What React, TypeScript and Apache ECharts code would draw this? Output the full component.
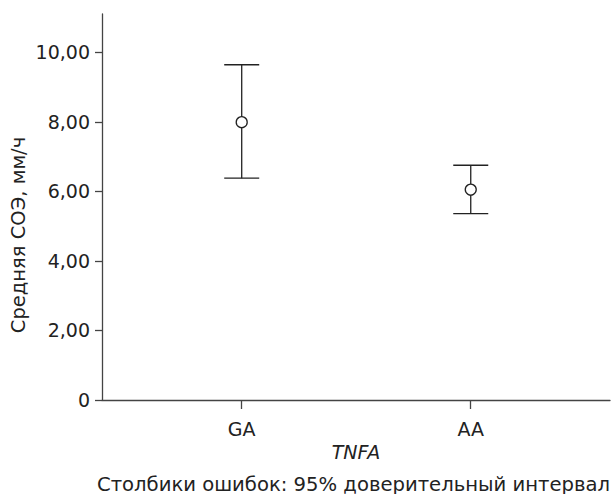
import React, { useEffect, useRef } from 'react';
import * as echarts from 'echarts';

const categories = ['GA', 'AA'];
const categoryPos = [1, 2];
const means = [7.99, 6.05];
const lowerCI = [6.38, 5.36];
const upperCI = [9.64, 6.75];
const yTicks = [0, 2, 4, 6, 8, 10];
const yName = 'Средняя СОЭ, мм/ч';
const xName = 'TNFA';
const footer = 'Столбики ошибок: 95% доверительный интервал';

export default function App() {
  const ref = useRef<HTMLDivElement>(null);
  useEffect(() => {
    const chart = echarts.init(ref.current!, null, { renderer: 'svg' });
    const font = 'DejaVu Sans';
    const ink = '#222';
    const axisColor = '#444';
    chart.setOption({
      animation: false,
      grid: { left: 102, right: 2, top: 14, bottom: 94 },
      xAxis: {
        type: 'value',
        min: 0.39,
        max: 2.608,
        splitLine: { show: false },
        axisLine: { show: true, lineStyle: { color: axisColor, width: 1.3 } },
        axisTick: { show: true, customValues: categoryPos, length: 9, lineStyle: { color: axisColor, width: 1.3 } },
        axisLabel: {
          customValues: categoryPos,
          formatter: (v: number) => categories[Math.round(v) - 1] ?? '',
          margin: 19,
          fontSize: 19,
          color: ink,
          fontFamily: font,
        },
        name: xName,
        nameLocation: 'middle',
        nameGap: 41,
        nameTextStyle: { fontStyle: 'italic', fontSize: 19, color: ink, fontFamily: font },
      },
      yAxis: {
        type: 'value',
        min: 0,
        max: 11.1,
        splitLine: { show: false },
        axisLine: { show: true, lineStyle: { color: axisColor, width: 1.3 } },
        axisTick: { show: true, customValues: yTicks, length: 7, lineStyle: { color: axisColor, width: 1.3 } },
        axisLabel: {
          customValues: yTicks,
          formatter: (v: number) => (v === 0 ? '0' : v.toFixed(2).replace('.', ',')),
          margin: 12,
          fontSize: 19,
          color: ink,
          fontFamily: font,
        },
      },
      graphic: [
        {
          type: 'text',
          x: 18,
          y: 235,
          rotation: Math.PI / 2,
          style: { text: yName, fontSize: 19.5, fontFamily: font, fill: ink, align: 'center', verticalAlign: 'middle' },
        },
        {
          type: 'text',
          x: 610,
          y: 484,
          style: { text: footer, fontSize: 19.6, fontFamily: font, fill: ink, align: 'right', verticalAlign: 'middle' },
        },
      ],
      series: [
        {
          type: 'custom',
          data: categoryPos.map((x, i) => [x, lowerCI[i], upperCI[i]]),
          renderItem: (params: any, api: any) => {
            const x = api.value(0);
            const lo = api.coord([x, api.value(1)]);
            const hi = api.coord([x, api.value(2)]);
            const hw = 17.5;
            const style = { stroke: ink, lineWidth: 1.3 };
            return {
              type: 'group',
              children: [
                { type: 'line', shape: { x1: lo[0], y1: lo[1], x2: hi[0], y2: hi[1] }, style },
                { type: 'line', shape: { x1: hi[0] - hw, y1: hi[1], x2: hi[0] + hw, y2: hi[1] }, style },
                { type: 'line', shape: { x1: lo[0] - hw, y1: lo[1], x2: lo[0] + hw, y2: lo[1] }, style },
              ],
            };
          },
          z: 2,
        },
        {
          type: 'scatter',
          data: categoryPos.map((x, i) => [x, means[i]]),
          symbol: 'circle',
          symbolSize: 11,
          itemStyle: { color: '#fff', borderColor: ink, borderWidth: 1.3, opacity: 1 },
          z: 3,
        },
      ],
    });
    return () => chart.dispose();
  }, []);
  return <div ref={ref} style={{ width: 612, height: 494, position: 'absolute', left: 0, top: 0 }} />;
}
